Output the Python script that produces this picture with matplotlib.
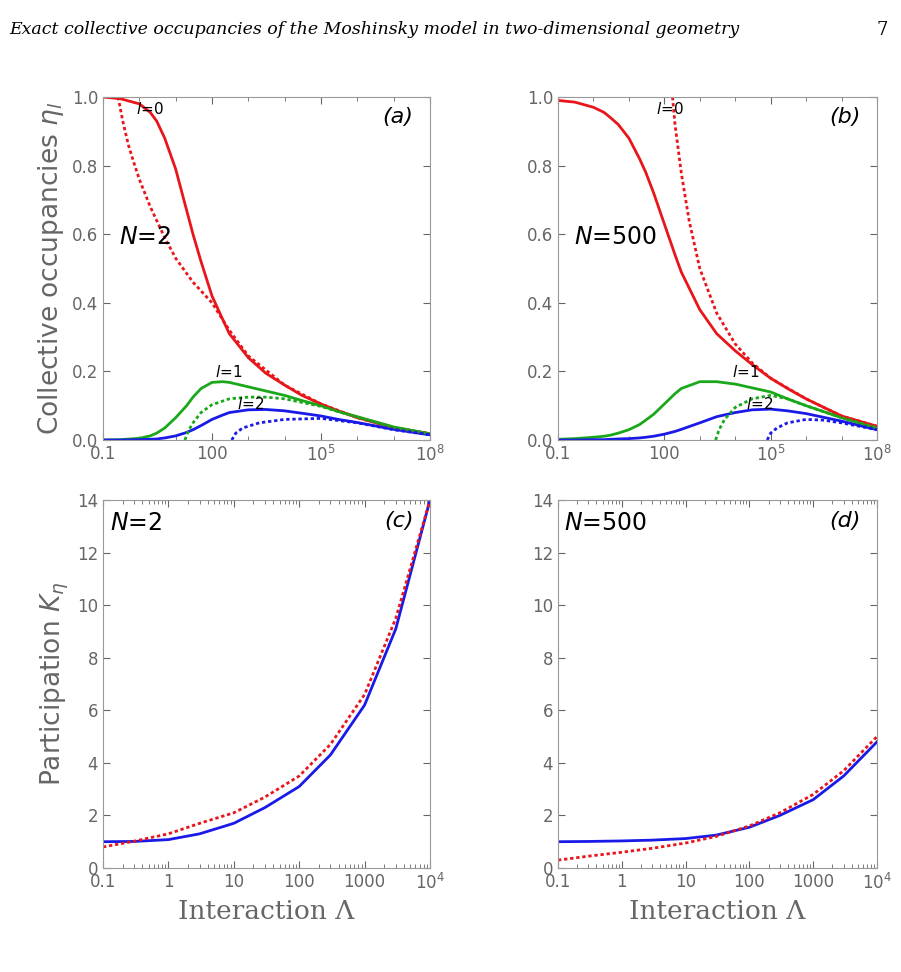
import numpy as np
import matplotlib.pyplot as plt
from matplotlib.ticker import FixedLocator, NullFormatter

W, H = 901, 972

# ---- data ----
lam_top = [0.1, 0.3, 1, 2, 3, 5, 10, 20, 30, 50, 100, 200, 300, 1e3, 3e3, 1e4, 3e4,
           1e5, 3e5, 1e6, 1e7, 1e8]
a_l0 = [1.0, 0.995, 0.98, 0.955, 0.93, 0.88, 0.79, 0.67, 0.60, 0.52, 0.42, 0.35, 0.31,
        0.24, 0.195, 0.16, 0.13, 0.105, 0.085, 0.065, 0.036, 0.018]
a_l1 = [0.0, 0.001, 0.005, 0.012, 0.02, 0.035, 0.065, 0.10, 0.125, 0.15, 0.168, 0.17,
        0.168, 0.155, 0.143, 0.13, 0.115, 0.10, 0.083, 0.068, 0.038, 0.018]
a_l2 = [0.0, 0.0, 0.001, 0.002, 0.003, 0.006, 0.012, 0.022, 0.03, 0.042, 0.06, 0.073,
        0.08, 0.088, 0.089, 0.085, 0.078, 0.07, 0.06, 0.051, 0.031, 0.015]
b_l0 = [0.99, 0.985, 0.97, 0.955, 0.94, 0.92, 0.88, 0.82, 0.78, 0.72, 0.63, 0.54, 0.49,
        0.38, 0.31, 0.26, 0.22, 0.18, 0.15, 0.12, 0.07, 0.04]
b_l1 = [0.002, 0.004, 0.008, 0.011, 0.014, 0.02, 0.03, 0.045, 0.058, 0.075, 0.105,
        0.135, 0.15, 0.17, 0.17, 0.163, 0.152, 0.14, 0.12, 0.10, 0.065, 0.035]
b_l2 = [0.0, 0.0, 0.001, 0.001, 0.002, 0.003, 0.004, 0.006, 0.008, 0.011, 0.017, 0.025,
        0.031, 0.05, 0.068, 0.08, 0.088, 0.09, 0.085, 0.077, 0.055, 0.03]

a_l0_d_x = [0.26, 0.35, 0.5, 0.7, 1, 2, 3, 5, 10, 30, 100, 300, 1e3, 1e4, 1e5, 1e6, 1e7, 1e8]
a_l0_d = [1.0, 0.93, 0.86, 0.81, 0.76, 0.68, 0.64, 0.59, 0.53, 0.46, 0.40, 0.32, 0.245,
          0.16, 0.105, 0.065, 0.036, 0.018]
a_l1_d_x = [18, 22, 30, 50, 100, 300, 1e3, 3e3, 1e4, 1e5, 1e6, 1e7, 1e8]
a_l1_d = [0.0, 0.025, 0.05, 0.08, 0.103, 0.12, 0.125, 0.125, 0.12, 0.098, 0.066, 0.037, 0.018]
a_l2_d_x = [350, 450, 700, 2e3, 1e4, 1e5, 1e6, 1e7, 1e8]
a_l2_d = [0.0, 0.02, 0.035, 0.05, 0.06, 0.063, 0.05, 0.03, 0.015]
b_l0_d_x = [170, 200, 300, 500, 1e3, 3e3, 1e4, 3e4, 1e5, 1e6, 1e7, 1e8]
b_l0_d = [1.0, 0.92, 0.78, 0.64, 0.50, 0.37, 0.28, 0.225, 0.18, 0.12, 0.07, 0.04]
b_l1_d_x = [2800, 3500, 5e3, 1e4, 3e4, 1e5, 3e5, 1e6, 1e7, 1e8]
b_l1_d = [0.0, 0.03, 0.06, 0.095, 0.12, 0.13, 0.12, 0.10, 0.065, 0.035]
b_l2_d_x = [8e4, 1e5, 1.5e5, 3e5, 1e6, 3e6, 1e7, 1e8]
b_l2_d = [0.0, 0.02, 0.035, 0.05, 0.06, 0.058, 0.05, 0.03]

lam_bot = [0.1, 0.3, 1, 3, 10, 30, 100, 300, 1e3, 3e3, 1e4]
c_exact = [1.0, 1.01, 1.08, 1.3, 1.7, 2.3, 3.1, 4.3, 6.2, 9.1, 14.0]
c_approx = [0.8, 1.02, 1.3, 1.7, 2.1, 2.7, 3.5, 4.7, 6.6, 9.5, 14.0]
d_exact = [1.0, 1.01, 1.03, 1.06, 1.12, 1.25, 1.55, 2.0, 2.6, 3.5, 4.8]
d_approx = [0.3, 0.45, 0.6, 0.75, 0.95, 1.2, 1.6, 2.1, 2.8, 3.7, 5.0]

GRAY = '#666666'
plt.rcParams['font.family'] = ['DejaVu Sans']

fig = plt.figure(figsize=(W / 100, H / 100), dpi=100)

def ax_at(x0, y0, x1, y1):
    return fig.add_axes([x0 / W, 1 - y1 / H, (x1 - x0) / W, (y1 - y0) / H])

def style(ax):
    for s in ax.spines.values():
        s.set_color('#999999')
    ax.tick_params(colors=GRAY, labelsize=12, which='both', direction='in', top=True, right=True)
    ax.tick_params(which='major', length=5)
    ax.tick_params(which='minor', length=3)
    ax.set_xscale('log')

def top_panel(ax, s0, s1, s2, d0x, d0, d1x, d1, d2x, d2):
    style(ax)
    ax.plot(lam_top, s0, color='#e8161a', lw=2)
    ax.plot(lam_top, s1, color='#1aa81a', lw=2)
    ax.plot(lam_top, s2, color='#1a1ae8', lw=2)
    ax.plot(d0x, d0, color='#e8161a', lw=2, ls=(0, (1.2, 1.0)))
    ax.plot(d1x, d1, color='#1aa81a', lw=2, ls=(0, (1.2, 1.0)))
    ax.plot(d2x, d2, color='#1a1ae8', lw=2, ls=(0, (1.2, 1.0)))
    ax.set_xlim(0.1, 1e8)
    ax.set_ylim(0, 1.0)
    ax.set_yticks([0, 0.2, 0.4, 0.6, 0.8, 1.0])
    ax.set_yticklabels(['0.0', '0.2', '0.4', '0.6', '0.8', '1.0'])
    ax.xaxis.set_major_locator(FixedLocator([0.1, 100, 1e5, 1e8]))
    ax.set_xticklabels(['0.1', '100', r'$10^5$', r'$10^8$'])
    ax.xaxis.set_minor_locator(FixedLocator([10.0 ** k for k in range(-1, 9)]))
    ax.xaxis.set_minor_formatter(NullFormatter())

def bot_panel(ax, ex, ap):
    style(ax)
    ax.plot(lam_bot, ex, color='#1a1ae8', lw=2)
    ax.plot(lam_bot, ap, color='#e8161a', lw=2, ls=(0, (1.2, 1.0)))
    ax.set_xlim(0.1, 1e4)
    ax.set_ylim(0, 14)
    ax.set_yticks(range(0, 15, 2))
    ax.xaxis.set_major_locator(FixedLocator([0.1, 1, 10, 100, 1000, 1e4]))
    ax.set_xticklabels(['0.1', '1', '10', '100', '1000', r'$10^4$'])
    ax.set_xlabel('Interaction Λ', family='DejaVu Serif', color=GRAY, fontsize=19)

axa = ax_at(103, 97, 430, 440)
top_panel(axa, a_l0, a_l1, a_l2, a_l0_d_x, a_l0_d, a_l1_d_x, a_l1_d, a_l2_d_x, a_l2_d)
axb = ax_at(558, 97, 877, 440)
top_panel(axb, b_l0, b_l1, b_l2, b_l0_d_x, b_l0_d, b_l1_d_x, b_l1_d, b_l2_d_x, b_l2_d)
axc = ax_at(103, 500, 430, 868)
bot_panel(axc, c_exact, c_approx)
axd = ax_at(558, 500, 877, 868)
bot_panel(axd, d_exact, d_approx)

axa.set_ylabel(r'Collective occupancies $\eta_l$', color=GRAY, fontsize=19)
axc.set_ylabel(r'Participation $K_\eta$', color=GRAY, fontsize=19)

for ax, lab in [(axa, '(a)'), (axb, '(b)'), (axc, '(c)'), (axd, '(d)')]:
    ax.text(0.95, 0.97, lab, transform=ax.transAxes,
            ha='right', va='top', fontsize=16, style='italic')

axa.text(0.05, 0.57, r'$\it{N}$=2', transform=axa.transAxes, fontsize=17)
axb.text(0.05, 0.57, r'$\it{N}$=500', transform=axb.transAxes, fontsize=17)
axc.text(0.02, 0.97, r'$\it{N}$=2', transform=axc.transAxes, fontsize=17, va='top')
axd.text(0.02, 0.97, r'$\it{N}$=500', transform=axd.transAxes, fontsize=17, va='top')

axa.text(0.8, 0.95, r'$l$=0', fontsize=11)
axa.text(120, 0.185, r'$l$=1', fontsize=11)
axa.text(500, 0.09, r'$l$=2', fontsize=11)
axb.text(60, 0.95, r'$l$=0', fontsize=11)
axb.text(8e3, 0.185, r'$l$=1', fontsize=11)
axb.text(2e4, 0.09, r'$l$=2', fontsize=11)

fig.text(0.01, 1 - 30 / H, 'Exact collective occupancies of the Moshinsky model in two-dimensional geometry',
         family='DejaVu Serif', style='italic', fontsize=12.5, va='center')
fig.text(0.985, 1 - 30 / H, '7', family='DejaVu Serif', fontsize=13, va='center', ha='right')

fig.savefig('out.png', dpi=100)
